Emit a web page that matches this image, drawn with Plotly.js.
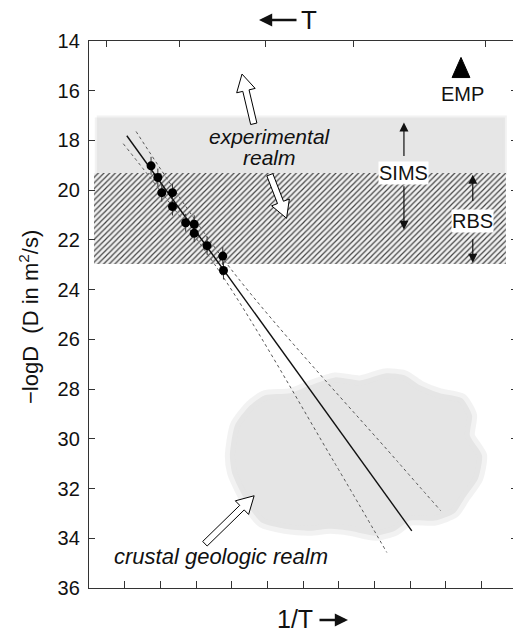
<!DOCTYPE html>
<html>
<head>
<meta charset="utf-8">
<script src="https://cdn.plot.ly/plotly-3.0.1.min.js"></script>
<style>
html,body{margin:0;padding:0;overflow:hidden;background:#fff;}
#chart{width:520px;height:633px;}
</style>
</head>
<body>
<div id="chart"></div>
<script>
// ---- data (x = 1/T in arbitrary units, y = -logD) ----
const dataX = [1.74, 1.93, 2.04, 2.34, 2.34, 2.71, 2.95, 2.95, 3.31, 3.75, 3.77];
const dataY = [19.02, 19.49, 20.10, 20.10, 20.66, 21.31, 21.37, 21.73, 22.23, 22.65, 23.23];
const dataErr = [0.36, 0.36, 0.36, 0.36, 0.36, 0.36, 0.36, 0.36, 0.36, 0.36, 0.36];

const fitX = [1.06, 9.05];
const fitY = [17.81, 33.70];

const bandLowX = [0.96, 3.63, 6.85, 8.35];
const bandLowY = [18.13, 23.21, 30.88, 34.57];
const bandHighX = [1.32, 4.00, 8.63, 9.86];
const bandHighY = [17.64, 23.21, 30.88, 32.89];

// SIMS range (grey band) and RBS range (hatched band)
const simsX = [0.22, 11.66];
const simsY = [17.08, 19.31];
const rbsX = [0.14, 11.69];
const rbsY = [19.31, 22.97];

// crustal geologic realm (cloud outline)
const cloudX = [3.95, 4.09, 4.51, 4.93, 5.63, 6.20, 6.90, 7.60, 8.30, 8.86, 9.28, 9.84, 10.46, 10.74, 10.68, 11.02, 10.91, 10.54, 10.26, 9.70, 9.00, 8.58, 8.02, 7.32, 6.76, 6.20, 5.49, 4.85, 4.51, 4.23, 4.01, 3.95];
const cloudY = [30.67, 29.46, 28.66, 28.25, 28.17, 27.85, 27.53, 27.65, 27.37, 27.45, 27.85, 28.17, 28.37, 29.06, 29.87, 30.67, 31.60, 32.37, 32.97, 33.29, 33.29, 33.70, 33.90, 33.70, 33.62, 33.70, 33.62, 33.38, 32.81, 32.08, 31.36, 30.67];

// EMP triangle
const empX = [10.18, 10.68, 10.43, 10.18];
const empY = [15.47, 15.47, 14.66, 15.47];

// hollow arrows: [tailX, tailY, tipX, tipY]
const hollowArrows = [
  [4.62, 17.33, 4.29, 15.33],
  [5.07, 19.38, 5.54, 21.13],
  [3.25, 34.22, 4.63, 32.29]
];

// top (T) axis tick positions and y ticks
const topTicks = [0.50, 2.53, 4.95, 7.41, 11.13];
const yTicks = [14, 16, 18, 20, 22, 24, 26, 28, 30, 32, 34, 36];

// ---- geometry helpers (for drawing block arrows in pixel-true shape) ----
const W = 520, H = 633, ML = 89, MR = 3, MT = 41, MB = 45;
const xRange = [0, 12], yRange = [36, 14];
const pxX = (W - ML - MR) / (xRange[1] - xRange[0]);
const pxY = (H - MT - MB) / (yRange[0] - yRange[1]);
function blockArrow(a) {
  const tx = a[0] * pxX, ty = a[1] * pxY, hx = a[2] * pxX, hy = a[3] * pxY;
  const dx = hx - tx, dy = hy - ty, L = Math.hypot(dx, dy);
  const ux = dx / L, uy = dy / L, nx = -uy, ny = ux;
  const sw = 3.2, hw = 9.5, hl = 17;
  const neckX = hx - ux * hl, neckY = hy - uy * hl;
  const pts = [
    [tx + nx * sw, ty + ny * sw],
    [neckX + nx * sw, neckY + ny * sw],
    [neckX + nx * hw, neckY + ny * hw],
    [hx, hy],
    [neckX - nx * hw, neckY - ny * hw],
    [neckX - nx * sw, neckY - ny * sw],
    [tx - nx * sw, ty - ny * sw],
    [tx + nx * sw, ty + ny * sw]
  ];
  return {x: pts.map(p => p[0] / pxX), y: pts.map(p => p[1] / pxY)};
}

const traces = [];
// grey SIMS band
traces.push({
  x: [simsX[0], simsX[1], simsX[1], simsX[0], simsX[0]],
  y: [simsY[0], simsY[0], simsY[1], simsY[1], simsY[0]],
  mode: 'lines', fill: 'toself', fillcolor: '#e6e6e6',
  line: {width: 4, color: 'rgba(230,230,230,0.5)'}, hoverinfo: 'skip', showlegend: false
});
// hatched RBS band
traces.push({
  x: [rbsX[0], rbsX[1], rbsX[1], rbsX[0], rbsX[0]],
  y: [rbsY[0], rbsY[0], rbsY[1], rbsY[1], rbsY[0]],
  mode: 'lines', fill: 'toself', fillcolor: '#f0f0f0',
  fillpattern: {shape: '/', bgcolor: '#f0f0f0', fgcolor: '#454545', size: 4, solidity: 0.3},
  line: {width: 0}, hoverinfo: 'skip', showlegend: false
});
// cloud
traces.push({
  x: cloudX, y: cloudY, mode: 'lines', fill: 'toself', fillcolor: '#e5e5e5',
  line: {width: 10, color: 'rgba(229,229,229,0.5)', shape: 'spline', smoothing: 0.6},
  hoverinfo: 'skip', showlegend: false
});
// confidence bands
traces.push({x: bandLowX, y: bandLowY, mode: 'lines', line: {color: '#555', width: 1, dash: 'dot', shape: 'spline'}, hoverinfo: 'skip', showlegend: false});
traces.push({x: bandHighX, y: bandHighY, mode: 'lines', line: {color: '#555', width: 1, dash: 'dot', shape: 'spline'}, hoverinfo: 'skip', showlegend: false});
// fit line
traces.push({x: fitX, y: fitY, mode: 'lines', line: {color: '#111', width: 1.4}, hoverinfo: 'skip', showlegend: false});
// data points
traces.push({
  x: dataX, y: dataY, mode: 'markers',
  marker: {color: '#000', size: 9},
  error_y: {type: 'data', array: dataErr, color: '#333', thickness: 1, width: 0},
  showlegend: false
});
// hollow arrows
hollowArrows.forEach(a => {
  const p = blockArrow(a);
  traces.push({x: p.x, y: p.y, mode: 'lines', fill: 'toself', fillcolor: '#fff',
    line: {color: '#000', width: 1}, hoverinfo: 'skip', showlegend: false});
});
// EMP triangle
traces.push({x: empX, y: empY, mode: 'lines', fill: 'toself', fillcolor: '#000',
  line: {color: '#000', width: 1}, hoverinfo: 'skip', showlegend: false});
// top axis carrier (T ticks)
traces.push({x: topTicks, y: topTicks.map(() => null), xaxis: 'x2', yaxis: 'y', mode: 'markers',
  hoverinfo: 'skip', showlegend: false});

const FONT = 'Liberation Sans, Arial, Helvetica, sans-serif';
const px2paperX = p => (p - ML) / (W - ML - MR);
const px2paperY = p => (H - MB - p) / (H - MT - MB);

function vArrow(x, tailY, tipY) {
  return {x: x, y: tipY, ax: x, ay: tailY, xref: 'x', yref: 'y', axref: 'x', ayref: 'y',
    text: '', showarrow: true, arrowhead: 2, arrowsize: 1.5, arrowwidth: 1.2, arrowcolor: '#111'};
}

const annotations = [
  // top "<- T"
  {x: px2paperX(259), y: px2paperY(20), xref: 'paper', yref: 'paper', ax: 39, ay: 0, text: '',
   showarrow: true, arrowhead: 2, arrowsize: 1.1, arrowwidth: 2.4, arrowcolor: '#111'},
  {x: px2paperX(308.5), y: px2paperY(20), xref: 'paper', yref: 'paper', text: 'T', showarrow: false,
   xanchor: 'center', yanchor: 'middle', font: {family: FONT, size: 26, color: '#111'}},
  // bottom "1/T ->"
  {x: px2paperX(295), y: px2paperY(619), xref: 'paper', yref: 'paper', text: '1/T', showarrow: false,
   xanchor: 'center', yanchor: 'middle', font: {family: FONT, size: 25, color: '#111'}},
  {x: px2paperX(348), y: px2paperY(620), xref: 'paper', yref: 'paper', ax: -30, ay: 0, text: '',
   showarrow: true, arrowhead: 2, arrowsize: 1.1, arrowwidth: 2.4, arrowcolor: '#111'},
  // y title
  {x: px2paperX(29), y: px2paperY(317), xref: 'paper', yref: 'paper', textangle: -90,
   text: '\u2212logD  (D in m<sup>2</sup>/s)', showarrow: false, xanchor: 'center', yanchor: 'middle',
   font: {family: FONT, size: 22, color: '#111'}},
  // labels
  {x: 10.46, y: 16.15, text: 'EMP', showarrow: false, font: {family: FONT, size: 20, color: '#111'}},
  {x: 5.07, y: 17.83, text: '<i>experimental</i>', showarrow: false, font: {family: FONT, size: 21, color: '#111'}},
  {x: 5.07, y: 18.68, text: '<i>realm</i>', showarrow: false, font: {family: FONT, size: 21, color: '#111'}},
  {x: 3.71, y: 34.72, text: '<i>crustal geologic realm</i>', showarrow: false, font: {family: FONT, size: 22, color: '#111'}},
  vArrow(8.83, 18.69, 17.28),
  vArrow(8.83, 19.78, 21.59),
  vArrow(10.76, 20.50, 19.38),
  vArrow(10.76, 21.91, 22.92),
  {x: 8.83, y: 19.30, text: 'SIMS', showarrow: false, bgcolor: '#fff', borderpad: 0,
   font: {family: FONT, size: 20, color: '#111'}},
  {x: 10.76, y: 21.25, text: 'RBS', showarrow: false, bgcolor: '#fff', borderpad: 0,
   font: {family: FONT, size: 20, color: '#111'}}
];

const layout = {
  width: W, height: H,
  margin: {l: ML, r: MR, t: MT, b: MB, pad: 0},
  paper_bgcolor: '#fff', plot_bgcolor: '#fff',
  showlegend: false,
  font: {family: FONT, color: '#111'},
  xaxis: {range: xRange, tick0: 0, dtick: 1, ticks: 'inside', ticklen: 7, tickwidth: 1, tickcolor: '#333',
    showticklabels: false, showgrid: false, zeroline: false, showline: true, linecolor: '#333', linewidth: 1.2,
    mirror: true},
  xaxis2: {range: xRange, overlaying: 'x', side: 'top', tickmode: 'array', tickvals: topTicks,
    ticks: 'inside', ticklen: 6, tickwidth: 1, tickcolor: '#333', showticklabels: false,
    showgrid: false, zeroline: false, showline: false},
  yaxis: {range: yRange, tickmode: 'array', tickvals: yTicks, ticks: 'inside', ticklen: 6, tickwidth: 1,
    tickcolor: '#333', mirror: 'ticks', showline: true, linecolor: '#333', linewidth: 1.2,
    showgrid: false, zeroline: false, tickfont: {family: FONT, size: 20, color: '#111'}, ticklabelstandoff: 4},
  annotations: annotations
};

Plotly.newPlot('chart', traces, layout, {displayModeBar: false, staticPlot: true});
</script>
</body>
</html>
